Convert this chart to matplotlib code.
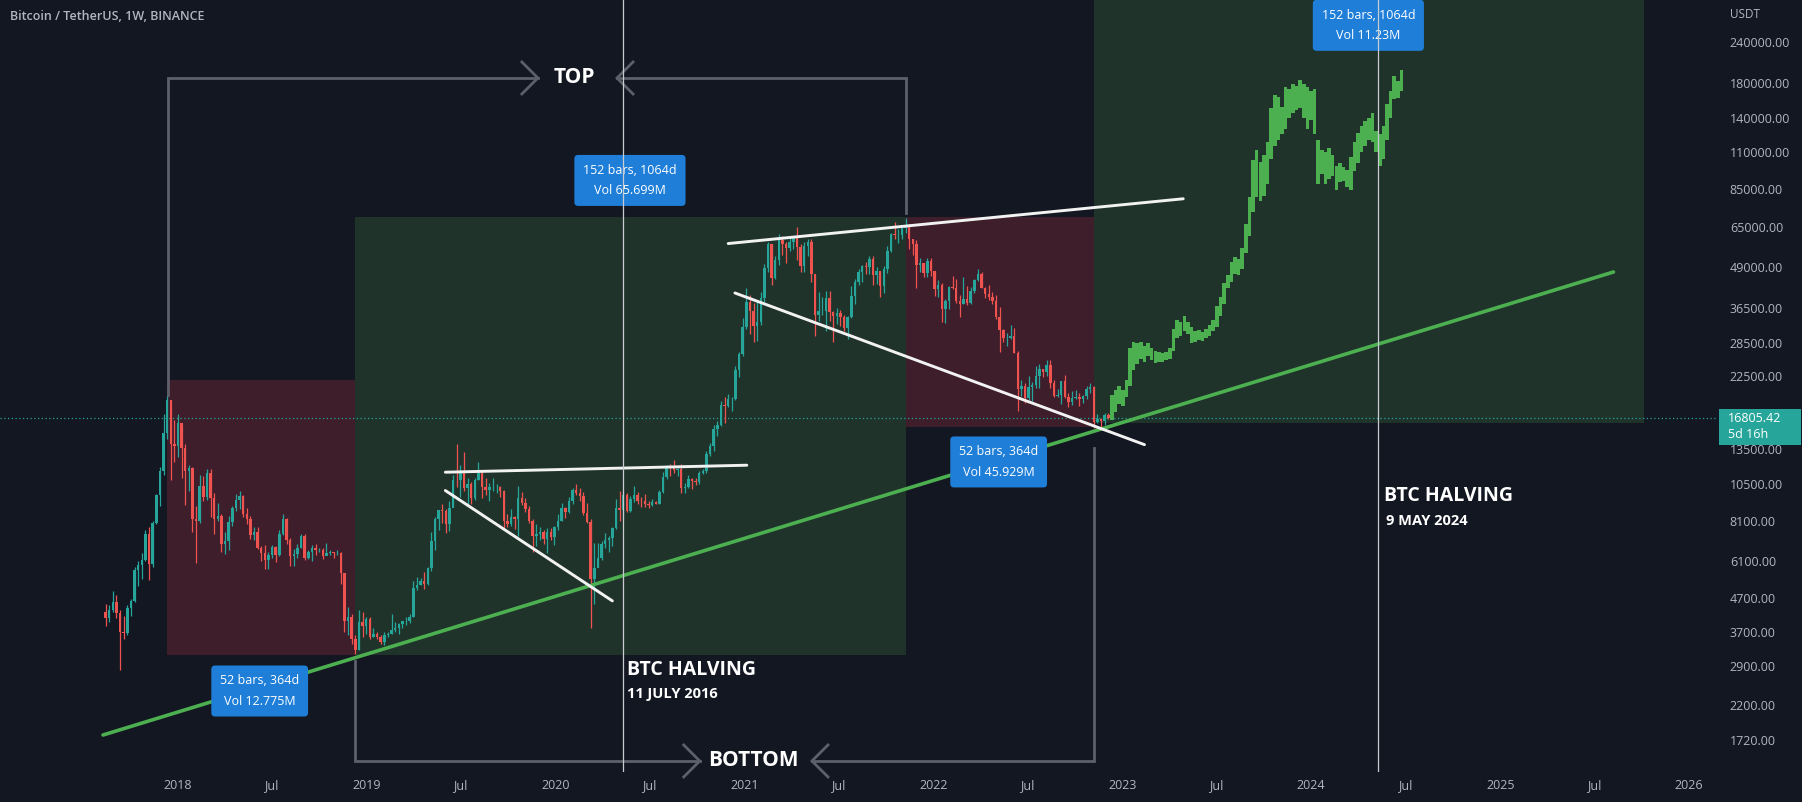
import matplotlib
matplotlib.use('Agg')
import matplotlib.pyplot as plt
import matplotlib.dates as mdates
import numpy as np
import pandas as pd
from matplotlib.patches import Rectangle
from matplotlib.ticker import FixedLocator, FuncFormatter, NullLocator

plt.rcParams['font.family'] = ['Open Sans', 'DejaVu Sans']

BG = '#131722'
TXT = '#b2b5be'
UP = '#26a69a'
DOWN = '#ef5350'

# weekly BTCUSDT candles, 2017-08-14 .. 2022-12-05 (open = previous close)
first_open = 4261.48
close = [
    4086, 4310, 4565, 4230, 3700, 3660, 4380, 4600, 5710, 5930, 6130, 7360, 5950, 8000, 9700, 11500, 15100, 19000, 14000, 13800,
    16150, 13600, 11500, 11750, 8200, 8100, 10400, 9600, 11400, 9500, 8200, 8400, 6900, 7000, 8050, 8900, 9400, 9650,
    8500, 8200, 7350, 7480, 6700, 6450, 6150, 6350, 6750, 6350, 7400, 8200, 7050, 6300, 6400, 6700, 7280, 6250, 6500,
    6700, 6600, 6600, 6300, 6450, 6480, 6450, 6450, 5600, 4000, 4100, 3500, 3250, 3950, 3850, 4050,
    3550, 3650, 3550, 3440, 3620, 3650, 3750, 3800, 3900, 4000, 4000, 4100, 5050, 5150, 5300, 5200, 5800, 7000, 8200,
    8750, 8700, 7950, 8900, 10850, 10800, 11450, 10200, 10550, 9500, 10800, 11400, 10300, 10100, 10300, 10300, 10300,
    10000, 8100, 7950, 8300, 8200, 9550, 9200, 8800, 8100, 7300, 7400, 7500, 7100, 7500, 7250, 7750,
    8100, 8900, 8600, 9350, 10100, 9900, 9650, 8550, 8050, 5370, 5800, 6250, 6900, 7050, 7150, 7700, 8900, 8750, 9700,
    8700, 9450, 9700, 9350, 9300, 9150, 9050, 9250, 9150, 9950, 11050, 11900, 11850, 11650, 11700, 10250, 10300, 10900,
    10750, 10700, 11350, 11500, 13000, 13750, 15500, 16000, 18400, 18200, 19200, 19250, 23500, 26450, 32000,
    38200, 35800, 32250, 33100, 39250, 48500, 57500, 45100, 51200, 59000, 57350, 55800, 58200, 60000, 56250, 49100,
    56600, 58250, 46500, 34700, 35700, 35800, 39100, 35600, 34500, 35300, 34250, 31800, 34250, 39850, 43800, 47050,
    49250, 48800, 51700, 46000, 47300, 42700, 48200, 54700, 61550, 61300, 61300, 64300, 65500, 59700, 57300, 49400,
    50100, 46700, 50800, 47300,
    41800, 43100, 36300, 38450, 42400, 42200, 38400, 37700, 38800, 37800, 41300, 44500, 46400, 42150, 40400, 39450,
    38450, 34300, 31300, 29450, 29450, 29900, 26600, 20550, 21000, 19300, 20850, 21200, 22600, 23650, 23200, 24450,
    21500, 19550, 19800, 21800, 19400, 18800, 19300, 19400, 19200, 19550, 20600, 20900, 16300, 16600, 16450, 17100,
    16805.42,
]
high = [
    4485, 4453, 4939, 4789, 4320, 4123, 4470, 4650, 5856, 6100, 6470, 7590, 7776, 8100, 9800, 11850, 17200, 19798, 19100, 16500,
    17250, 16000, 14000, 12000, 11900, 9000, 11200, 11100, 11700, 11700, 9900, 9200, 8500, 7500, 8400, 9000, 9800, 9990,
    9700, 8900, 8400, 7750, 7750, 6800, 6850, 6520, 6850, 6780, 7590, 8500, 8250, 7150, 6620, 6900, 7400, 7400, 6600,
    6830, 6880, 6700, 6700, 6950, 6600, 6500, 6600, 6500, 5600, 4400, 4200, 3600, 4300, 4250, 4100,
    4100, 3800, 3700, 3600, 3700, 3700, 4200, 3950, 3930, 4000, 4100, 4200, 5300, 5450, 5400, 5650, 5850, 7500, 8350,
    8600, 9100, 8800, 9350, 11200, 13970, 12000, 13200, 11000, 10650, 11000, 12300, 11500, 10950, 10600, 10950, 10500,
    10350, 10100, 8500, 8800, 8400, 10400, 9950, 9550, 9000, 8200, 7900, 7750, 7600, 7700, 7700, 7800,
    8500, 9200, 8950, 9600, 10200, 10500, 10250, 9950, 9200, 8200, 6950, 6950, 7000, 7450, 7300, 7750, 9450, 10000, 9950,
    9900, 9650, 10400, 9950, 9600, 9800, 9300, 9450, 9300, 10100, 11450, 12000, 12100, 12480, 11800, 12100, 10600, 11200,
    11000, 10950, 11500, 11700, 13300, 14100, 15950, 16450, 18900, 19500, 19900, 19400, 24200, 26800, 34000,
    41950, 40000, 37850, 38500, 40950, 49700, 58350, 57500, 52650, 61800, 61000, 58400, 60200, 61000, 64850, 57500,
    58400, 59500, 59500, 46600, 40850, 39500, 41300, 41300, 35750, 36600, 35900, 34700, 34500, 42600, 44800, 48150,
    49400, 50500, 52900, 52900, 48850, 47350, 49250, 56550, 62000, 67000, 63700, 64500, 69000, 66300, 59600, 59200,
    51950, 50200, 52100, 52100,
    47600, 44450, 43500, 38900, 42650, 45850, 44750, 40000, 45400, 42600, 42400, 44800, 48200, 47200, 42450, 42950,
    40800, 40000, 36800, 31400, 30650, 32400, 31800, 26900, 21900, 21550, 22500, 21650, 24300, 24650, 23650, 25200,
    25200, 21900, 20600, 21850, 22800, 19950, 20350, 20500, 19950, 19700, 21050, 21450, 21050, 17200, 16800, 17400,
    17400,
]
low = [
    3850, 3950, 4260, 4068, 2817, 3505, 3600, 4140, 4550, 5110, 5370, 6100, 5325, 5850, 7900, 9000, 11200, 14500, 10800, 12300,
    12750, 11000, 9035, 10030, 7500, 6000, 8000, 9300, 9400, 8300, 7400, 8100, 6500, 6400, 6600, 7800, 8700, 8800,
    8300, 7950, 7100, 7050, 6650, 6100, 5750, 5780, 6250, 6070, 6300, 7350, 6880, 5880, 5880, 6250, 6700, 6120, 6200,
    6100, 6370, 6500, 6200, 6350, 6380, 6250, 6350, 5200, 3700, 3600, 3400, 3156, 3240, 3550, 3650,
    3500, 3550, 3500, 3380, 3370, 3550, 3650, 3700, 3650, 3800, 3880, 3930, 4100, 4950, 5150, 5000, 5150, 5700, 6600,
    7600, 8000, 7450, 7550, 8950, 10300, 9600, 10000, 9100, 9150, 9380, 10800, 9500, 9700, 9300, 10000, 9900,
    9600, 7700, 7750, 7800, 7650, 7300, 9050, 8650, 8000, 6500, 6800, 7050, 6900, 6450, 7050, 6850,
    7600, 8100, 8250, 8550, 9100, 9700, 9300, 8450, 8000, 3782, 4500, 5850, 6150, 6700, 6500, 6800, 7650, 8100, 8200,
    8650, 8650, 9250, 9100, 8950, 8950, 8900, 9000, 9100, 9150, 9900, 10900, 11150, 11400, 11100, 9900, 9850, 10250,
    10150, 10450, 10550, 11250, 11400, 12850, 13250, 14800, 15850, 16200, 18150, 17600, 19000, 22350, 26000,
    31500, 30400, 28800, 29000, 32300, 38000, 47000, 43000, 45000, 49500, 53200, 50300, 54700, 55500, 51300, 47000,
    47050, 52900, 43800, 30000, 33400, 34800, 31000, 33400, 28800, 32700, 32100, 31000, 29300, 34000, 37500, 43000,
    43900, 46400, 46500, 42850, 43400, 39600, 40750, 46900, 54400, 59500, 57800, 59400, 62300, 55600, 53250, 42000,
    47100, 45500, 45550, 45700,
    39650, 39600, 33000, 32900, 36300, 41650, 37950, 34300, 37500, 37200, 37550, 40500, 44250, 42100, 39200, 38550,
    37600, 33700, 26700, 28700, 28000, 29300, 26500, 17600, 19600, 18600, 19000, 18900, 20800, 20700, 22450, 22650,
    20800, 19500, 19500, 18550, 19350, 18150, 18450, 19250, 18200, 18650, 19250, 20050, 15600, 16200, 15500, 16000,
    16700,
]
weeks = pd.date_range('2017-08-14', periods=len(close), freq='7D')

# projected bars pattern (high / low), weekly from 2022-12-12
proj_high = [
    19700, 20500, 21000, 20500, 22000, 27500, 28800, 28500, 28700, 28000,
    28500, 27500, 27000, 26800, 26500, 26800, 27500, 31500, 33500, 33000,
    34500, 33000, 32000, 31000, 31200, 30800, 31500, 32500, 33500, 37000,
    39500, 43500, 46000, 50500, 52500, 51500, 56000, 66000, 80000, 104000,
    112000, 103000, 108000, 118000, 150000, 165000, 163000, 152000, 175000, 172000,
    178000, 176000, 184000, 178000, 175000, 170000, 172000, 120000, 112000, 110000,
    113000, 108000, 100000, 102000, 99000, 97000, 106000, 118000, 126000, 132000,
    137000, 140000, 145000, 128000, 125000, 132000, 155000, 170000, 188000, 182000,
    197000,
]
proj_low = [
    16500, 17500, 18500, 18200, 19500, 21000, 23500, 24500, 25500, 25000,
    26000, 25200, 24800, 25000, 25000, 25200, 25500, 27000, 29500, 30000,
    31000, 30500, 28500, 28800, 29200, 29000, 29500, 30000, 31000, 32000,
    34500, 37500, 42000, 44000, 46500, 46000, 48000, 54000, 61000, 72000,
    80000, 78000, 80500, 88000, 105000, 115000, 120000, 125000, 130000, 140000,
    145000, 148000, 150000, 140000, 130000, 138000, 125000, 88000, 94000, 88000,
    91000, 93000, 84000, 89000, 90000, 86000, 84000, 96000, 102000, 110000,
    115000, 120000, 118000, 110000, 100000, 105000, 120000, 140000, 160000, 162000,
    170000,
]
proj_weeks = pd.date_range('2022-12-12', periods=len(proj_high), freq='7D')

price_ticks = [240000, 180000, 140000, 110000, 85000, 65000, 49000, 36500, 28500, 22500,
               13500, 10500, 8100, 6100, 4700, 3700, 2900, 2200, 1720]
time_ticks = ['2018-01-01', '2018-07-01', '2019-01-01', '2019-07-01', '2020-01-01', '2020-07-01',
              '2021-01-01', '2021-07-01', '2022-01-01', '2022-07-01', '2023-01-01', '2023-07-01',
              '2024-01-01', '2024-07-01', '2025-01-01', '2025-07-01', '2026-01-01']
time_labels = ['2018', 'Jul', '2019', 'Jul', '2020', 'Jul', '2021', 'Jul', '2022', 'Jul',
               '2023', 'Jul', '2024', 'Jul', '2025', 'Jul', '2026']

# date ranges (start, end, low price, high price, colour)
ranges = [
    ('2017-12-11', '2018-12-10', 3130, 21950, '#3e1e2a'),
    ('2018-12-10', '2021-11-08', 3130, 69500, '#1f332b'),
    ('2021-11-08', '2022-11-07', 15700, 69500, '#3e1e2a'),
    ('2022-11-07', '2025-10-06', 16150, 600000, '#1f332b'),
]
measures = [
    ('2018-06-08', 2430, '52 bars, 364d\nVol 12.775M'),
    ('2020-05-24', 90100, '152 bars, 1064d\nVol 65.699M'),
    ('2022-05-07', 12290, '52 bars, 364d\nVol 45.929M'),
    ('2024-04-21', 270000, '152 bars, 1064d\nVol 11.23M'),
]
green_line = (['2017-08-09', '2025-08-08'], [1780, 47140])
white_lines = [
    (['2019-06-02', '2021-01-05'], [11430, 12010]),
    (['2019-06-02', '2020-04-20'], [10040, 4598]),
    (['2020-11-30', '2023-04-29'], [57640, 79130]),
    (['2020-12-13', '2023-02-13'], [40630, 13890]),
]
brackets = [
    (['2017-12-13', '2017-12-13', '2019-11-28'], [19740, 186000, 186000]),
    (['2019-10-28', '2019-11-28', '2019-10-28'], [208300, 186000, 166100]),
    (['2020-04-29', '2021-11-08', '2021-11-08'], [186000, 186000, 71550]),
    (['2020-05-30', '2020-04-29', '2020-05-30'], [208300, 186000, 166100]),
    (['2018-12-10', '2018-12-10', '2020-10-06'], [3006, 1481, 1481]),
    (['2020-09-05', '2020-10-06', '2020-09-05'], [1659, 1481, 1323]),
    (['2021-05-11', '2022-11-07', '2022-11-07'], [1481, 1481, 13570]),
    (['2021-06-11', '2021-05-11', '2021-06-11'], [1659, 1481, 1323]),
]
halvings = ['2020-05-11', '2024-05-09']


def dn(s):
    return mdates.date2num(pd.Timestamp(s))


fig = plt.figure(figsize=(18.02, 8.02), dpi=100, facecolor=BG)
ax = fig.add_axes([0, 30 / 802, 1718 / 1802, 772 / 802], facecolor=BG)
ax.set_yscale('log')
d0 = dn('2018-01-01')
ax.set_xlim(d0 - 344.2, d0 + 2978.1)
ax.set_ylim(1370, 323000)

for s, e, lo, hi, c in ranges:
    ax.fill_between([dn(s), dn(e)], lo, hi, color=c, lw=0, zorder=0.5)

last = close[-1]
ax.axhline(last, color=UP, lw=0.9, ls=(0, (1, 2)), zorder=1)

# candles
c_arr = np.array(close, dtype=float)
o_arr = np.r_[first_open, c_arr[:-1]]
x = mdates.date2num(weeks)
cols = np.where(c_arr >= o_arr, UP, DOWN)
ax.vlines(x, low, high, colors=cols, lw=0.9, zorder=2)
ax.bar(x, np.abs(c_arr - o_arr), bottom=np.minimum(o_arr, c_arr), width=4.8,
       color=cols, lw=0, zorder=2.1)

# projection
px = mdates.date2num(proj_weeks)
ph = np.array(proj_high, dtype=float)
pl = np.array(proj_low, dtype=float)
ax.bar(px, ph - pl, bottom=pl, width=6.9, color='#4caf50', lw=0, zorder=2)

ax.plot([dn(d) for d in green_line[0]], green_line[1], color='#4caf50', lw=2.6,
        solid_capstyle='round', zorder=3)
for ds, ps in white_lines:
    ax.plot([dn(d) for d in ds], ps, color='#f2f2f2', lw=2.1, solid_capstyle='round', zorder=3)
for ds, ps in brackets:
    ax.plot([dn(d) for d in ds], ps, color='#5d606b', lw=2.0, solid_joinstyle='miter',
            zorder=3, clip_on=False)

for d in halvings:
    ax.axvline(dn(d), color='#c9cbd1', lw=0.9, zorder=6)

for d, p, t in measures:
    ax.text(dn(d), p, t, ha='center', va='center', color='white', fontsize=9,
            linespacing=1.75, zorder=5,
            bbox=dict(boxstyle='round,pad=0.7,rounding_size=0.3', fc='#1e7ed8', ec='none'))

ax.text(dn('2020-02-07'), 186000, 'TOP', ha='center', va='center', color='white',
        fontsize=15, fontweight='bold', zorder=5)
ax.text(dn('2021-01-18'), 1481, 'BOTTOM', ha='center', va='center', color='white',
        fontsize=15, fontweight='bold', zorder=5, clip_on=False)
ax.text(dn('2020-05-18'), 2722, 'BTC HALVING', ha='left', va='baseline', color='white',
        fontsize=14, fontweight='bold', zorder=5)
ax.text(dn('2020-05-18'), 2314, '11 JULY 2016', ha='left', va='baseline', color='white',
        fontsize=10.5, fontweight='bold', zorder=5)
ax.text(dn('2024-05-22'), 9325, 'BTC HALVING', ha='left', va='baseline', color='white',
        fontsize=14, fontweight='bold', zorder=5)
ax.text(dn('2024-05-26'), 7867, '9 MAY 2024', ha='left', va='baseline', color='white',
        fontsize=10.5, fontweight='bold', zorder=5)

# axes styling
for sp in ax.spines.values():
    sp.set_visible(False)
ax.yaxis.tick_right()
ax.yaxis.set_major_locator(FixedLocator(price_ticks))
ax.yaxis.set_major_formatter(FuncFormatter(lambda v, p: f'{v:.2f}'))
ax.yaxis.set_minor_locator(NullLocator())
ax.tick_params(axis='y', length=0, pad=8.5, labelcolor=TXT, labelsize=9)
ax.set_xticks([dn(t) for t in time_ticks])
ax.set_xticklabels(time_labels)
ax.tick_params(axis='x', length=0, pad=5, labelcolor=TXT, labelsize=9)

# last price label on the scale
fig.canvas.draw()
ypx = ax.transData.transform((d0, last))[1]
fig.patches.append(Rectangle((1719 / 1802, (ypx - 27) / 802), 82 / 1802, 36 / 802,
                             transform=fig.transFigure, fc=UP, ec='none'))
fig.text(1728 / 1802, (ypx - 1) / 802, f'{last:.2f}', color='white', fontsize=9, va='center')
fig.text(1728 / 1802, (ypx - 17) / 802, '5d 16h', color='white', fontsize=9, va='center')

fig.text(1730 / 1802, 1 - 15 / 802, 'USDT', color=TXT, fontsize=8.5, va='center')
fig.text(10 / 1802, 1 - 17 / 802, 'Bitcoin / TetherUS, 1W, BINANCE', color=TXT,
         fontsize=9, fontweight='semibold', va='center')

fig.savefig('out.png', dpi=100, facecolor=BG)
